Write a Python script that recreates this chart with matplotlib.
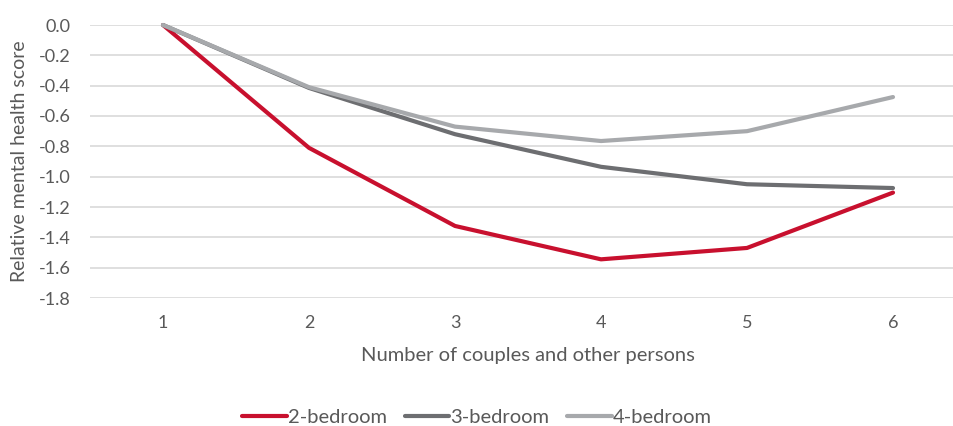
import matplotlib.pyplot as plt

# Dati
persons = [1, 2, 3, 4, 5, 6]
bed2 = [0.0, -0.81, -1.325, -1.545, -1.47, -1.105]
bed3 = [0.0, -0.415, -0.72, -0.935, -1.05, -1.075]
bed4 = [0.0, -0.41, -0.67, -0.765, -0.70, -0.475]
yticks = [0.0, -0.2, -0.4, -0.6, -0.8, -1.0, -1.2, -1.4, -1.6, -1.8]

plt.rcParams['font.family'] = ['Lato', 'DejaVu Sans']
txt = '#595959'

fig = plt.figure(figsize=(9.54, 4.26), dpi=100)
ax = fig.add_axes([90 / 954, 1 - 298 / 426, 876 / 954, 273 / 426])

ax.plot(persons, bed2, color='#c8102e', lw=3, label='2-bedroom', clip_on=False, solid_capstyle='round', zorder=3)
ax.plot(persons, bed3, color='#6d6e71', lw=3, label='3-bedroom', clip_on=False, solid_capstyle='round', zorder=3)
ax.plot(persons, bed4, color='#a7a9ac', lw=3, label='4-bedroom', clip_on=False, solid_capstyle='round', zorder=3)

ax.set_xlim(0.5, 6.5)
ax.set_ylim(-1.8, 0.0)
ax.set_yticks(yticks)
ax.set_yticklabels(['%.1f' % v for v in yticks])
ax.set_xticks(persons)
ax.grid(axis='y', color='#d9d9d9', lw=1.2)
ax.set_axisbelow(True)
for s in ax.spines.values():
    s.set_visible(False)
ax.tick_params(length=0, labelsize=13, colors=txt)
ax.tick_params(axis='y', pad=14)
ax.tick_params(axis='x', pad=12)
ax.set_xlabel('Number of couples and other persons', fontsize=14.5, color=txt, labelpad=12)
ax.set_ylabel('Relative mental health score', fontsize=14, color=txt, labelpad=8)

fig.legend(loc='center', bbox_to_anchor=(0.5, 1 - 417 / 426), ncol=3, frameon=False,
           fontsize=14.5, labelcolor=txt, handlelength=2.2, handletextpad=0.05, columnspacing=0.9)

fig.savefig('out.png', dpi=100)
